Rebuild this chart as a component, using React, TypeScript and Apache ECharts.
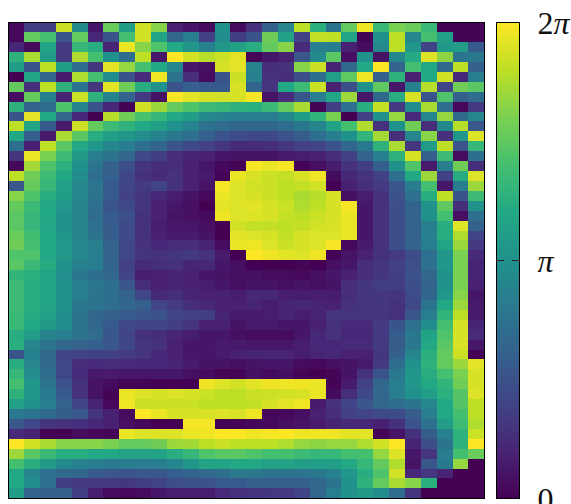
import React, { useEffect, useRef } from "react";
import * as echarts from "echarts";

// phase per cell, in percent of the full 0..2pi range, top row first
const rows: number[][] = [
[2,18,18,92,47,6,77,55,93,82,9,6,3,50,3,14,30,45,90,63,38,76,98,67,80,77,67,1,1,1],
[2,76,70,26,76,11,26,70,93,58,33,42,19,48,18,26,78,57,19,91,90,58,1,50,90,46,70,56,1,1],
[11,3,58,17,66,62,10,97,82,72,60,52,43,53,57,62,76,82,12,43,42,9,3,47,90,52,20,53,55,28],
[64,87,54,17,88,70,50,35,90,6,100,93,89,92,96,1,6,9,27,47,74,4,50,5,47,61,95,83,38,40],
[55,26,90,55,35,16,96,84,70,60,46,6,4,94,96,44,13,14,82,92,10,34,60,100,32,70,60,34,90,30],
[0,58,33,7,88,70,48,26,12,98,38,13,3,26,92,43,14,13,24,36,56,75,98,30,64,9,60,93,11,42],
[76,13,90,64,38,16,96,78,62,50,26,30,28,28,94,32,15,60,68,92,9,24,50,75,6,43,89,20,78,74],
[4,76,43,10,92,64,44,32,17,5,100,96,94,93,94,99,5,12,27,42,59,85,6,34,62,94,26,72,30,35],
[64,32,35,72,44,26,11,1,93,85,76,72,68,66,64,63,67,76,87,1,18,37,62,91,17,48,87,35,2,17],
[26,96,60,33,11,0,89,78,71,66,60,55,47,44,42,42,42,47,55,65,80,0,19,50,84,12,46,84,34,46],
[90,58,28,7,92,76,68,64,60,56,50,44,37,35,33,33,33,35,40,46,58,70,88,14,50,78,13,47,89,27],
[60,30,7,87,74,62,56,52,48,44,40,36,30,26,23,22,22,25,29,36,42,50,65,86,13,46,82,14,52,95],
[36,9,90,74,60,52,46,42,36,32,26,22,19,15,12,12,13,16,19,20,25,33,40,64,87,16,54,90,26,66],
[15,97,80,68,54,42,38,33,22,18,13,10,9,6,5,5,5,7,8,9,13,19,32,43,64,94,30,68,3,36],
[2,86,72,63,50,38,31,24,15,13,13,9,6,2,1,99,97,99,1,4,8,14,18,30,50,72,7,42,78,13],
[90,78,68,60,48,36,30,21,14,12,14,9,7,1,97,94,92,91,94,98,3,11,14,19,36,60,85,19,62,95],
[27,76,66,57,46,39,28,20,17,20,14,9,5,99,95,93,92,90,91,93,0,9,13,17,27,42,70,6,42,85],
[82,72,62,55,46,38,28,19,15,11,8,5,2,97,95,94,92,90,87,89,94,4,8,14,25,37,62,90,26,68],
[76,67,60,52,44,36,26,22,15,9,6,4,0,96,95,96,94,92,88,90,94,99,6,14,24,32,50,75,13,50],
[74,66,60,50,44,35,28,24,14,9,5,4,3,98,95,95,94,91,90,92,94,97,6,14,24,32,50,70,4,36],
[74,66,59,50,44,37,29,23,14,8,6,6,4,0,93,91,91,90,91,93,94,97,6,14,24,31,42,62,95,31],
[77,69,60,52,44,38,29,23,14,9,7,7,5,0,96,95,94,91,94,95,95,97,6,14,24,31,43,62,88,20],
[78,70,60,53,46,43,32,21,14,11,13,13,10,3,97,98,95,92,94,95,99,2,7,14,24,32,42,58,85,17],
[72,72,60,53,46,42,32,21,15,14,15,17,14,7,0,100,98,96,95,98,1,5,9,14,17,23,36,52,80,12],
[74,67,61,50,43,42,32,19,12,13,14,10,11,6,4,0,0,0,1,0,4,6,13,15,19,24,37,52,80,10],
[65,63,58,49,40,36,33,20,8,9,10,9,6,5,4,4,3,3,2,4,6,9,13,16,18,25,33,50,80,10],
[68,62,58,50,42,40,36,27,13,9,10,9,8,6,4,5,5,4,5,4,5,13,16,18,18,24,32,50,80,9],
[68,62,58,50,42,38,36,32,21,11,13,10,9,9,8,11,11,8,8,8,8,13,15,16,15,23,33,52,82,6],
[68,62,58,50,40,38,36,33,30,20,17,13,11,9,9,10,8,10,11,10,9,14,15,16,14,22,38,60,85,7],
[67,61,57,48,38,33,30,28,27,25,20,19,18,10,7,7,8,10,8,10,15,15,15,15,14,27,42,65,90,7],
[67,60,54,48,38,33,28,22,20,20,18,15,9,9,5,7,7,6,6,9,14,12,12,17,26,37,48,70,94,10],
[62,55,44,42,38,35,27,20,14,13,10,8,6,6,4,3,3,3,6,11,14,11,11,17,29,40,58,72,94,12],
[63,46,38,33,31,30,27,21,15,14,9,6,6,7,7,6,6,6,8,11,11,12,12,17,29,40,60,74,94,6],
[26,43,34,20,20,19,19,17,15,11,9,6,6,7,9,10,10,10,8,10,11,9,9,16,30,46,63,76,92,1],
[62,45,34,21,13,12,13,12,11,11,10,7,5,5,4,5,6,6,3,2,4,5,7,17,35,50,64,76,85,96],
[66,48,36,21,12,7,7,6,6,6,6,4,3,1,1,4,3,4,1,0,1,5,14,26,40,52,62,70,80,94],
[70,52,38,25,14,5,3,1,1,0,0,0,98,95,93,96,98,98,98,97,1,7,19,33,42,52,60,65,78,94],
[64,52,41,28,14,5,1,97,95,94,95,94,92,90,90,92,92,93,94,97,3,13,22,33,42,50,55,63,73,95],
[57,50,43,32,20,10,2,98,92,92,92,92,90,90,90,91,94,96,98,7,14,20,27,33,35,38,46,60,73,90],
[40,38,34,29,27,15,9,3,100,97,94,94,94,95,94,98,2,2,4,9,13,19,20,22,23,29,42,60,70,90],
[27,21,15,14,13,11,9,4,2,0,0,99,99,1,1,2,2,4,5,7,10,11,11,9,14,25,37,55,68,88],
[12,9,1,0,3,2,1,97,95,95,95,97,98,100,100,98,99,100,98,98,98,96,96,1,5,14,29,43,64,92],
[100,93,87,82,82,82,80,76,76,78,85,86,90,92,90,90,90,88,84,83,84,84,88,93,100,10,24,38,64,100],
[85,74,67,62,62,60,60,57,57,58,62,66,72,74,74,72,70,70,68,66,66,70,70,84,95,6,15,42,70,77],
[70,62,54,47,44,42,41,42,42,42,46,52,58,58,60,60,57,58,55,55,55,60,66,76,88,5,27,41,84,0],
[60,45,36,34,33,28,27,26,27,27,30,32,34,36,40,40,38,38,38,40,43,52,62,72,93,11,16,10,0,0],
[60,48,37,18,17,17,17,16,18,20,24,25,25,28,28,30,30,30,30,33,38,50,64,76,87,82,63,0,0,0],
[55,32,30,30,18,8,3,2,3,6,8,8,8,12,14,15,16,17,20,33,42,50,54,48,35,15,0,0,0,0],
];

const viridis = ["#440154","#482475","#414487","#355f8d","#2a788e","#21918c","#22a884","#44bf70","#7ad151","#bddf26","#fde725"];
const columns = rows[0].map((_, i) => String(i));
const rowNames = rows.map((_, i) => String(i));
const FULL = 2 * Math.PI;
const ticks: Record<string, string> = { "0": "0", "1": "{m|π}", "2": "{n|2}{m|π}" };

export default function App() {
  const ref = useRef<HTMLDivElement>(null);
  useEffect(() => {
    document.body.style.margin = "0";
    const style = document.createElement("style");
    style.textContent = "#root svg path { shape-rendering: crispEdges; }";
    document.head.appendChild(style);
    const chart = echarts.init(ref.current!, undefined, { renderer: "svg" });
    const cells: number[][] = [];
    rows.forEach((r, y) => r.forEach((v, x) => cells.push([x, y, (v / 100) * FULL])));
    const serif = "'Liberation Serif', serif";
    const G = { l: 8.5, t: 22.5, s: 476 };
    const C = { l: 496, w: 23.5 };
    const midY = G.t + G.s / 2;
    const tickStyle = { stroke: "#222", lineWidth: 1 };
    chart.setOption({
      animation: false,
      backgroundColor: "#fff",
      grid: [
        { left: G.l, top: G.t, width: G.s, height: G.s, outerBoundsMode: "none" },
        { left: C.l, top: G.t, width: C.w, height: G.s, outerBoundsMode: "none" },
      ],
      xAxis: [
        { type: "category", gridIndex: 0, data: columns, show: false },
        { type: "value", gridIndex: 1, show: false },
      ],
      yAxis: [
        { type: "category", gridIndex: 0, data: rowNames, inverse: true, show: false },
        {
          type: "value", gridIndex: 1, min: 0, max: FULL, interval: Math.PI, position: "right",
          splitLine: { show: false }, axisLine: { show: false }, axisTick: { show: false },
          axisLabel: {
            margin: 18, showMinLabel: true, showMaxLabel: true, hideOverlap: false,
            formatter: (v: number) => ticks[String(Math.round(v / Math.PI))],
            fontFamily: serif, fontSize: 32, color: "#111",
            rich: {
              n: { fontFamily: serif, fontSize: 32, color: "#111" },
              m: { fontFamily: serif, fontSize: 32, fontStyle: "italic", color: "#111" },
            },
          },
        },
      ],
      visualMap: {
        type: "continuous", min: 0, max: FULL, seriesIndex: 0, calculable: false, hoverLink: false,
        orient: "vertical", left: C.l, top: G.t, itemWidth: C.w, itemHeight: G.s, padding: 0,
        showLabel: false, text: null, realtime: false,
        inRange: { color: viridis },
      },
      series: [
        {
          type: "heatmap", xAxisIndex: 0, yAxisIndex: 0, data: cells, silent: true,
          itemStyle: { borderWidth: 0 }, progressive: 0,
        },
      ],
      graphic: [
        { type: "rect", silent: true, z: 100, shape: { x: G.l, y: G.t, width: G.s, height: G.s }, style: { fill: "none", stroke: "#000", lineWidth: 1 } },
        { type: "rect", silent: true, z: 100, shape: { x: C.l, y: G.t, width: C.w, height: G.s }, style: { fill: "none", stroke: "#000", lineWidth: 1 } },
        { type: "line", silent: true, z: 100, shape: { x1: C.l, y1: midY, x2: C.l + 8, y2: midY }, style: tickStyle },
        { type: "line", silent: true, z: 100, shape: { x1: C.l + C.w - 8, y1: midY, x2: C.l + C.w, y2: midY }, style: tickStyle },
      ],
    });
    return () => {
      chart.dispose();
      style.remove();
    };
  }, []);
  return <div ref={ref} style={{ width: 571, height: 504 }} />;
}
